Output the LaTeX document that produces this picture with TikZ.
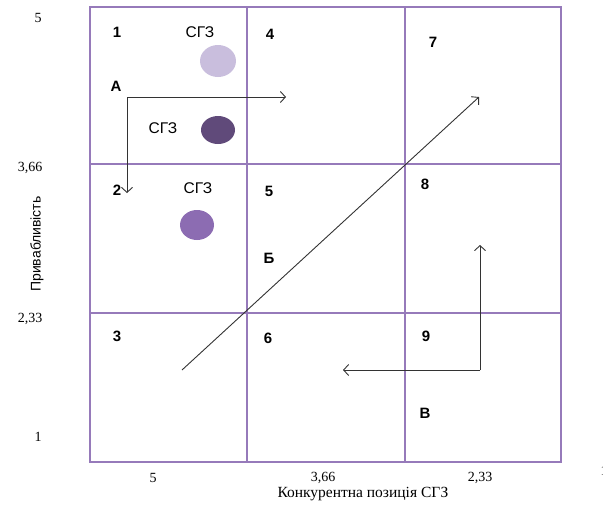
\documentclass[tikz,border=0pt]{standalone}
\usepackage{fontspec}
\setmainfont{Liberation Serif}
\setsansfont{Liberation Sans}
\usetikzlibrary{arrows.meta}
\definecolor{gridline}{RGB}{150,122,186}
\definecolor{sgzlight}{RGB}{201,190,221}
\definecolor{sgzdark}{RGB}{96,74,122}
\definecolor{sgzmid}{RGB}{140,108,178}

\begin{document}
\begin{tikzpicture}[x=1pt, y=-1pt, >={Straight Barb[length=5pt,width=11pt]}]
  \useasboundingbox (0,0) rectangle (603,506);
  \tikzset{
    cellnum/.style={font=\sffamily\bfseries\fontsize{15}{17}\selectfont, inner sep=0pt},
    sgz/.style={font=\sffamily\fontsize{15.5}{17}\selectfont, inner sep=0pt},
    axisnum/.style={font=\fontsize{14}{16}\selectfont, inner sep=0pt},
    flow/.style={->, black!80, line width=0.9pt}
  }
  % grid 3x3
  \foreach \x in {247,405} \draw[gridline, line width=2.6pt] (\x,7) -- (\x,462);
  \foreach \y in {164,313} \draw[gridline, line width=2.6pt] (90,\y) -- (561,\y);
  \draw[gridline, line width=2.6pt] (90,7) rectangle (561,462);
  % cell numbers
  \node[cellnum] (n1) at (117,32) {1};
  \node[cellnum] (n2) at (117,190) {2};
  \node[cellnum] (n3) at (117,336) {3};
  \node[cellnum] (n4) at (270,34) {4};
  \node[cellnum] (n5) at (269,191) {5};
  \node[cellnum] (n6) at (268,338) {6};
  \node[cellnum] (n7) at (433,42) {7};
  \node[cellnum] (n8) at (425,184) {8};
  \node[cellnum] (n9) at (426,336) {9};
  \node[cellnum] (la) at (116,86) {А};
  \node[cellnum] (lb) at (269,258) {Б};
  \node[cellnum] (lv) at (425,413) {В};
  % SBU circles
  \node[sgz] (t1) at (200,32) {СГЗ};
  \fill[sgzlight] (218,61) ellipse (18 and 16);
  \node[sgz] (t2) at (163,128) {СГЗ};
  \fill[sgzdark] (218,130) ellipse (17 and 14);
  \node[sgz] (t3) at (198,188) {СГЗ};
  \fill[sgzmid] (197,225) ellipse (17 and 15);
  % strategy arrows
  \coordinate (a0) at (127,97);
  \coordinate (a1) at (286,97);
  \coordinate (a2) at (127,193);
  \draw[flow] (a0) -- (a1);
  \draw[flow] (a0) -- (a2);
  \coordinate (b0) at (182,370);
  \coordinate (b1) at (479,97);
  \draw[flow] (b0) -- (b1);
  \coordinate (c0) at (480,370);
  \coordinate (c1) at (480,245);
  \coordinate (c2) at (343,370);
  \draw[flow] (c0) -- (c1);
  \draw[flow] (c0) -- (c2);
  % axes
  \node[axisnum] (y5) at (38,18) {5};
  \node[axisnum] (y366) at (30,168) {3,66};
  \node[axisnum] (y233) at (30,319) {2,33};
  \node[axisnum] (y1) at (38,437) {1};
  \node[font=\sffamily\fontsize{14}{16}\selectfont, rotate=90, inner sep=0pt] (ytitle) at (37,244) {Привабливість};
  \node[axisnum] (x5) at (153,478) {5};
  \node[axisnum] (x366) at (323,478) {3,66};
  \node[axisnum] (x233) at (480,478) {2,33};
  \node[axisnum] (x1) at (604,471) {1};
  \node[font=\fontsize{15.5}{17}\selectfont, inner sep=0pt] (xtitle) at (363,494) {Конкурентна позиція СГЗ};
\end{tikzpicture}
\end{document}
